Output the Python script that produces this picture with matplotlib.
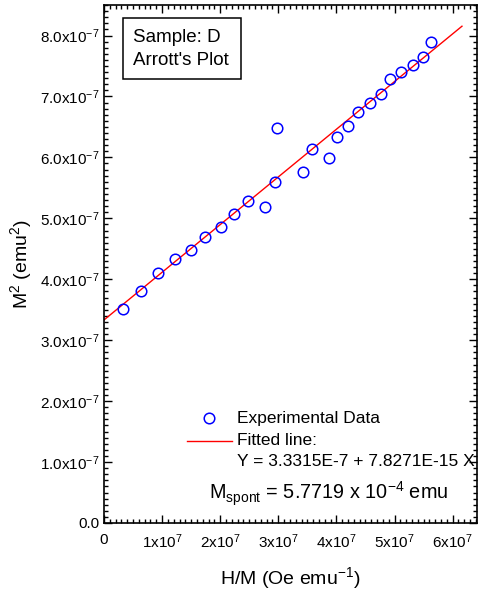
import matplotlib
matplotlib.use('Agg')

import numpy as np
import matplotlib.pyplot as plt
from matplotlib.ticker import MultipleLocator, FuncFormatter
from matplotlib.patches import Rectangle

plt.rcParams['font.family'] = ['Liberation Sans', 'DejaVu Sans']
plt.rcParams['mathtext.fontset'] = 'custom'
plt.rcParams['mathtext.rm'] = 'Liberation Sans'
plt.rcParams['mathtext.it'] = 'Liberation Sans:italic'
plt.rcParams['mathtext.bf'] = 'Liberation Sans:bold'

# 数据：H/M 与 M^2
h_over_m = np.array([0.326, 0.644, 0.933, 1.220, 1.490, 1.747, 2.010, 2.246, 2.479,
                     2.766, 2.943, 2.985, 3.419, 3.574, 3.866, 4.015, 4.204, 4.376,
                     4.582, 4.759, 4.919, 5.115, 5.309, 5.481, 5.631]) * 1e7
m_sq = np.array([3.52, 3.81, 4.10, 4.33, 4.48, 4.70, 4.86, 5.07, 5.28,
                 5.19, 5.59, 6.49, 5.76, 6.13, 5.99, 6.33, 6.52, 6.75,
                 6.89, 7.04, 7.28, 7.40, 7.51, 7.64, 7.89]) * 1e-7

# 拟合直线参数
intercept = 3.3315e-7
slope = 7.8271e-15
fit_x = np.array([0.0, 6.16e7])
fit_y = intercept + slope * fit_x

fig = plt.figure(figsize=(4.79, 5.96), dpi=100)
ax = fig.add_axes([0.217, 0.1225, 0.779, 0.869])

ax.plot(fit_x, fit_y, color='red', linewidth=1.0)
ax.plot(h_over_m, m_sq, 'o', markerfacecolor='none', markeredgecolor='blue',
        markersize=7.6, markeredgewidth=1.1)

ax.set_xlim(0, 6.42e7)
ax.set_ylim(0, 8.5e-7)

ax.xaxis.set_major_locator(MultipleLocator(1e7))
ax.xaxis.set_minor_locator(MultipleLocator(1e6))
ax.yaxis.set_major_locator(MultipleLocator(1e-7))
ax.yaxis.set_minor_locator(MultipleLocator(1e-8))


def fmt_x(v, pos):
    n = int(round(v / 1e7))
    if n == 0:
        return '0'
    return r'$\mathregular{%dx10^{7}}$' % n


def fmt_y(v, pos):
    n = v / 1e-7
    if abs(n) < 1e-6:
        return '0.0'
    return r'$\mathregular{%.1fx10^{-7}}$' % n


ax.xaxis.set_major_formatter(FuncFormatter(fmt_x))
ax.yaxis.set_major_formatter(FuncFormatter(fmt_y))

ax.tick_params(which='both', direction='in', top=True, right=True, labelsize=11, width=1)
ax.tick_params(which='major', length=6)
ax.tick_params(which='minor', length=3)
ax.tick_params(axis='x', pad=7)
for s in ax.spines.values():
    s.set_linewidth(1.2)

ax.set_xlabel(r'H/M (Oe emu$\mathregular{^{-1}}$)', fontsize=14, labelpad=10)
ax.set_ylabel(r'M$\mathregular{^{2}}$ (emu$\mathregular{^{2}}$)', fontsize=14, labelpad=4)

# 样品标注框
ax.add_patch(Rectangle((0.050, 0.857), 0.3165, 0.1185, transform=ax.transAxes,
                       facecolor='white', edgecolor='black', linewidth=1.1))
ax.text(0.0766, 0.928, "Sample: D", transform=ax.transAxes, fontsize=13.5,
        va='baseline', ha='left')
ax.text(0.0766, 0.884, "Arrott's Plot", transform=ax.transAxes, fontsize=13.5,
        va='baseline', ha='left')

# 图例（手动）
ax.plot([0.2815], [0.2027], 'o', transform=ax.transAxes, markerfacecolor='none',
        markeredgecolor='blue', markersize=7.6, markeredgewidth=1.1)
ax.text(0.3566, 0.2027, 'Experimental Data', transform=ax.transAxes, fontsize=12.5,
        va='center', ha='left')
ax.plot([0.2225, 0.343], [0.1583, 0.1583], transform=ax.transAxes, color='red', linewidth=1.0)
ax.text(0.3566, 0.160, 'Fitted line:', transform=ax.transAxes, fontsize=12.5,
        va='center', ha='left')
ax.text(0.3566, 0.1178, 'Y = 3.3315E-7 + 7.8271E-15 X', transform=ax.transAxes, fontsize=12.5,
        va='center', ha='left', clip_on=False)

ax.text(0.282, 0.0456, r'M$\mathregular{_{spont}}$ = 5.7719 x 10$\mathregular{^{-4}}$ emu',
        transform=ax.transAxes, fontsize=14.3, va='baseline', ha='left')

plt.savefig('out.png', dpi=100)
